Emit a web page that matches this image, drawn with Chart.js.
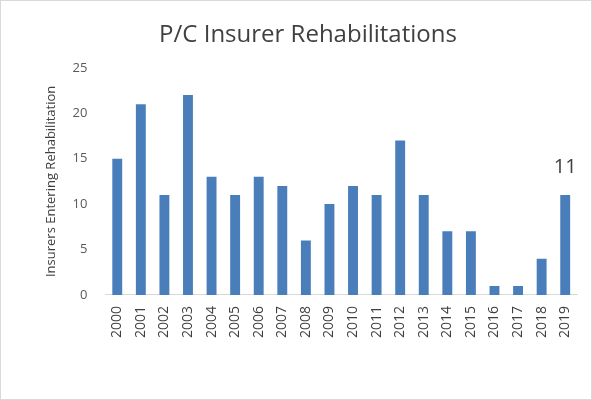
<!DOCTYPE html>
<html>
<head>
<meta charset="utf-8">
<script src="https://cdn.jsdelivr.net/npm/chart.js@4"></script>
<style>
  body { margin: 0; background: #fff; }
  #wrap { position: absolute; left: 0; top: 0; width: 590px; height: 398px; border: 1px solid #d9d9d9; }
</style>
</head>
<body>
<div id="wrap"><canvas id="grafica" width="590" height="398"></canvas></div>
<script>
const years = ['2000','2001','2002','2003','2004','2005','2006','2007','2008','2009',
               '2010','2011','2012','2013','2014','2015','2016','2017','2018','2019'];
const rehabs = [15, 21, 11, 22, 13, 11, 13, 12, 6, 10, 12, 11, 17, 11, 7, 7, 1, 1, 4, 11];

// Etiqueta solo para la ultima barra
const lastLabel = {
    id: 'lastLabel',
    afterDatasetsDraw(chart) {
        const meta = chart.getDatasetMeta(0);
        const bar = meta.data[meta.data.length - 1];
        const ctx = chart.ctx;
        ctx.save();
        ctx.font = '20px "Open Sans", Calibri, sans-serif';
        ctx.fillStyle = '#404040';
        ctx.textAlign = 'center';
        ctx.textBaseline = 'bottom';
        ctx.fillText(rehabs[rehabs.length - 1], bar.x, bar.y - 18);
        ctx.restore();
    }
};

new Chart(document.getElementById('grafica'), {
    type: 'bar',
    data: {
        labels: years,
        datasets: [{
            data: rehabs,
            backgroundColor: '#4a7ebb',
            barPercentage: 0.6,
            categoryPercentage: 0.7
        }]
    },
    options: {
        responsive: false,
        animation: false,
        layout: { padding: { left: 38, right: 14, top: 12, bottom: 58 } },
        scales: {
            y: {
                min: 0, max: 25,
                ticks: { stepSize: 5, padding: 10, color: '#595959', font: { size: 13, family: '"Open Sans", sans-serif' } },
                grid: { display: false },
                border: { display: false },
                title: { display: true, text: 'Insurers Entering Rehabilitation', color: '#404040',
                         font: { size: 13, family: '"Open Sans", sans-serif' } }
            },
            x: {
                ticks: { minRotation: 90, maxRotation: 90, color: '#404040',
                         font: { size: 14, family: '"Open Sans", sans-serif' } },
                grid: { display: false },
                border: { color: '#d9d9d9' }
            }
        },
        plugins: {
            legend: { display: false },
            tooltip: { enabled: false },
            title: { display: true, text: 'P/C Insurer Rehabilitations', color: '#404040',
                     font: { size: 24, weight: 'normal', family: '"Open Sans", sans-serif' },
                     padding: { top: 8, bottom: 18 } }
        }
    },
    plugins: [lastLabel]
});
</script>
</body>
</html>
